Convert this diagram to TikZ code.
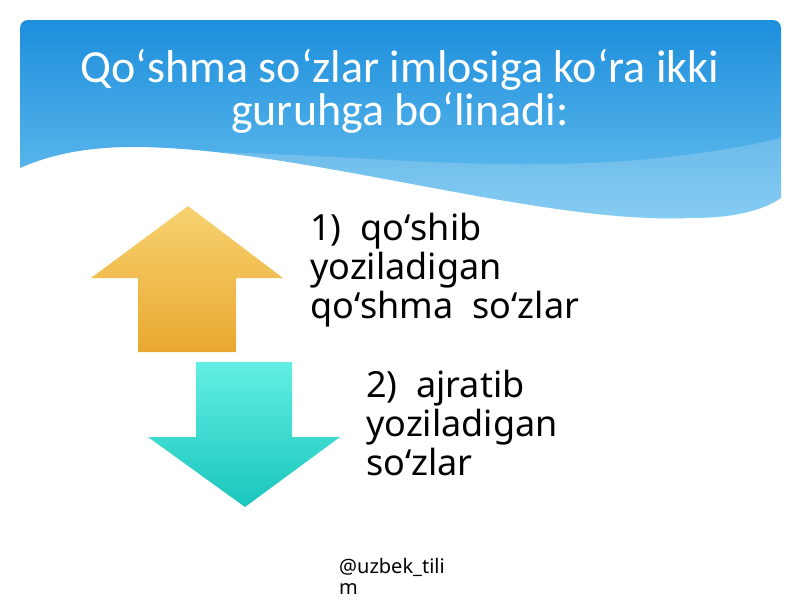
\documentclass[tikz,border=0pt]{standalone}
\usepackage{fontspec}
\setmainfont{Noto Sans}
\newfontfamily\headfont{Carlito}
\definecolor{skyTop}{RGB}{28,142,220}
\definecolor{skyBot}{RGB}{110,195,240}
\definecolor{upTop}{RGB}{247,210,112}
\definecolor{upBot}{RGB}{233,168,48}
\definecolor{dnTop}{RGB}{98,238,228}
\definecolor{dnBot}{RGB}{26,198,188}
\newcommand{\bannerpath}{(20,168) [rounded corners=8pt] -- (20,20) -- (781,20) [sharp corners] -- (781,198)
  .. controls (760,212) and (730,218) .. (690,218) .. controls (540,225) and (300,147) .. (133,147)
  .. controls (80,147) and (45,157) .. (20,168) -- cycle}

\begin{document}
\begin{tikzpicture}[x=1pt,y=-1pt,every node/.style={inner sep=0pt},
  item/.style={anchor=base west,align=left,font=\fontsize{36}{39}\selectfont}]
\useasboundingbox (0,0) rectangle (800,600);
% banner with wave
\shade[top color=skyTop,bottom color=skyBot] \bannerpath;
\begin{scope}
\clip \bannerpath;
\fill[white,opacity=.18] (150,152) .. controls (350,148) and (560,190) .. (781,138) -- (781,240) -- (150,240) -- cycle;
\end{scope}
% anchor base = baseline of the last line
\node[align=center,text=white,font=\headfont\fontsize{46}{43}\selectfont,anchor=base] (head) at (400,125)
  {Qoʻshma soʻzlar imlosiga koʻra ikki\\guruhga boʻlinadi:};
%-------------
\shade[top color=upTop,bottom color=upBot] (188,206) -- (283,278) -- (236,278) -- (236,352)
  -- (138,352) -- (138,278) -- (91,278) -- cycle;
\shade[top color=dnTop,bottom color=dnBot] (196,362) -- (292,362) -- (292,437) -- (340,437)
  -- (245,507) -- (148,437) -- (196,437) -- cycle;
%-------------
\node[item] (one) at (310,318) {1)\ \ qoʻshib\\yoziladigan\\qoʻshma\ \ soʻzlar};
\node[item] (two) at (366,475) {2)\ \ ajratib\\yoziladigan\\soʻzlar};
\node[anchor=base west,align=left,font=\fontsize{20}{21}\selectfont] (tag) at (339,594) {@uzbek\_tili\\m};
\end{tikzpicture}
\end{document}
